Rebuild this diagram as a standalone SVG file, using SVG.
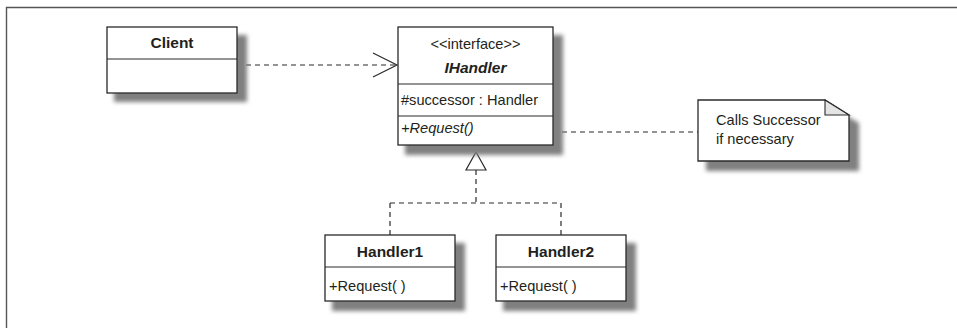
<svg xmlns="http://www.w3.org/2000/svg" width="957" height="328" viewBox="0 0 957 328">
<style>
  .box { fill: #ffffff; stroke: #2a2a2a; stroke-width: 1.3; }
  .div { stroke: #2a2a2a; stroke-width: 1.2; fill: none; }
  .shadow { fill: #808080; filter: url(#blur); }
  .dash { fill: none; stroke: #2a2a2a; stroke-width: 1.2; stroke-dasharray: 5 4; }
  .solid { fill: none; stroke: #2a2a2a; stroke-width: 1.2; }
  .t { font-family: "Liberation Sans", Arial, sans-serif; font-size: 14.6px; fill: #231f20; }
  .b { font-weight: bold; font-size: 15.5px; }
  .i { font-style: italic; }
  .mid { text-anchor: middle; }
</style>
<defs>
  <filter id="blur" x="-20%" y="-20%" width="140%" height="140%">
    <feGaussianBlur stdDeviation="2.2"/>
  </filter>
</defs>

<g id="frame">
  <path d="M6.5,328 V7.5 H957" fill="none" stroke="#555555" stroke-width="1.4"/>
</g>

<g id="connectors">
  <line class="dash" x1="237" y1="65" x2="396" y2="65"/>
  <polyline class="solid" points="373,53 397,65 373,77"/>
  <line class="dash" x1="553" y1="132" x2="698" y2="132"/>
  <path class="dash" d="M476,170 V203 M390,203 H561 M390,203 V235 M561,203 V235"/>
  <polygon points="476,152 486,170 466,170" fill="#ffffff" stroke="#2a2a2a" stroke-width="1.2"/>
</g>

<g id="client">
  <rect class="shadow" x="114" y="35" width="133" height="67"/>
  <rect class="box" x="107" y="27" width="130" height="66"/>
  <line class="div" x1="107" y1="59" x2="237" y2="59"/>
  <text class="t b mid" x="172" y="48">Client</text>
</g>

<g id="ihandler">
  <rect class="shadow" x="405" y="35" width="158" height="120"/>
  <rect class="box" x="398" y="27" width="155" height="118"/>
  <line class="div" x1="398" y1="84" x2="553" y2="84"/>
  <line class="div" x1="398" y1="116" x2="553" y2="116"/>
  <text class="t mid" x="475.5" y="49">&lt;&lt;interface&gt;&gt;</text>
  <text class="t b i mid" x="475.5" y="73">IHandler</text>
  <text class="t" x="401" y="105">#successor : Handler</text>
  <text class="t i" x="401" y="133">+Request()</text>
</g>

<g id="note">
  <path class="shadow" d="M706,108 H833 L859,123 V171 H706 Z"/>
  <path class="box" d="M698,100 H825 L849,115 V161 H698 Z"/>
  <path d="M825,100 V115 H849 Z" fill="#e4e4e4" stroke="#2a2a2a" stroke-width="1.1"/>
  <text class="t" x="716" y="125">Calls Successor</text>
  <text class="t" x="716" y="144">if necessary</text>
</g>

<g id="handler1">
  <rect class="shadow" x="332" y="243" width="133" height="68"/>
  <rect class="box" x="325" y="235" width="130" height="66"/>
  <line class="div" x1="325" y1="267" x2="455" y2="267"/>
  <text class="t b mid" x="390" y="257">Handler1</text>
  <text class="t" x="329" y="291">+Request( )</text>
</g>

<g id="handler2">
  <rect class="shadow" x="503" y="243" width="133" height="68"/>
  <rect class="box" x="496" y="235" width="130" height="66"/>
  <line class="div" x1="496" y1="267" x2="626" y2="267"/>
  <text class="t b mid" x="561" y="257">Handler2</text>
  <text class="t" x="500" y="291">+Request( )</text>
</g>
</svg>
